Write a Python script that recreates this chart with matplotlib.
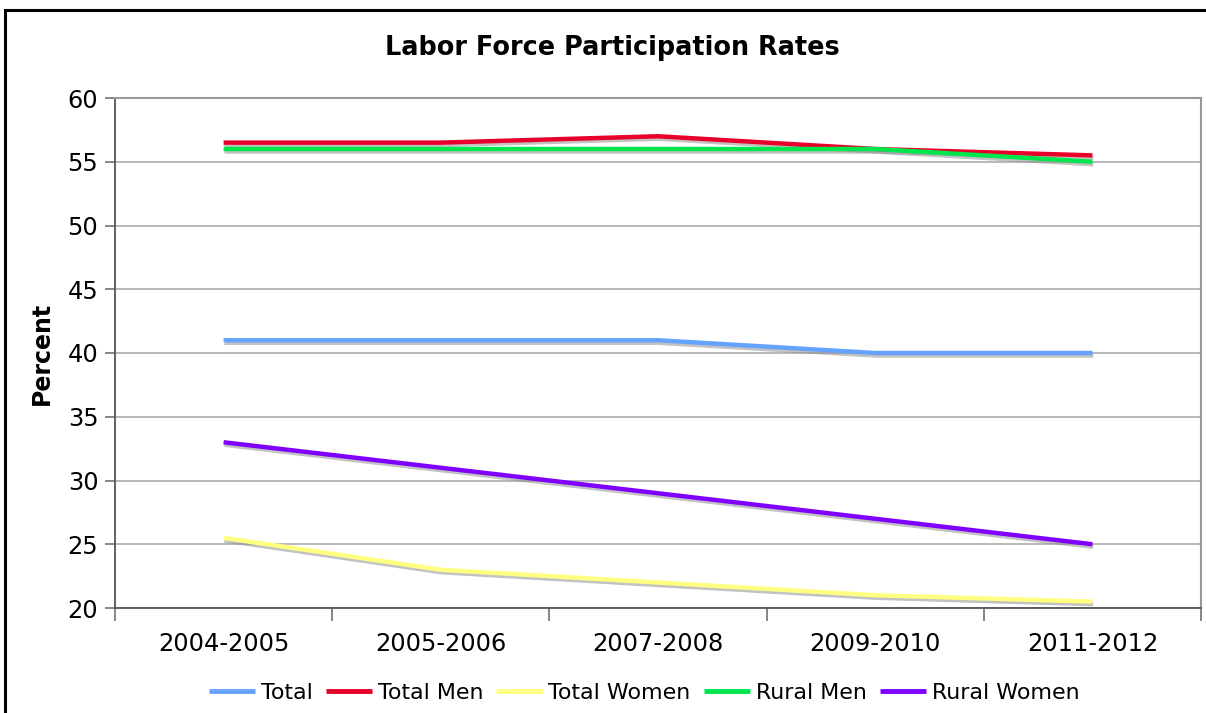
import numpy as np
import matplotlib
matplotlib.use("Agg")
import matplotlib.pyplot as plt
import matplotlib.patheffects as pe
from matplotlib.patches import Rectangle

# data
periods = ["2004-2005", "2005-2006", "2007-2008", "2009-2010", "2011-2012"]
total = [41, 41, 41, 40, 40]
total_men = [56.5, 56.5, 57, 56, 55.5]
total_women = [25.5, 23, 22, 21, 20.5]
rural_men = [56, 56, 56, 56, 55]
rural_women = [33, 31, 29, 27, 25]

series_names = ["Total", "Total Men", "Total Women", "Rural Men", "Rural Women"]
series_colors = ["#66a3ff", "#e8002a", "#ffff80", "#00e64d", "#8000ff"]

plt.rcParams['font.family'] = ['DejaVu Sans']

fig = plt.figure(figsize=(12.06, 7.13), dpi=100)
ax = fig.add_axes([115/1206, 1 - 608/713, (1201 - 115)/1206, (608 - 98)/713])

# outer black frame (right and bottom run off the image)
fig.patches.append(Rectangle((5/1206, -0.05), 1.2, 1 - 10/713 + 0.05,
                             transform=fig.transFigure, fill=False,
                             edgecolor="black", linewidth=2.2, zorder=0))

x = np.arange(len(periods))
shadow = [pe.SimpleLineShadow(offset=(0.6, -1.8), shadow_color="#909090", alpha=0.55),
          pe.Normal()]
for name, vals, col in zip(series_names,
                           [total, total_men, total_women, rural_men, rural_women],
                           series_colors):
    ax.plot(x, vals, color=col, linewidth=3.2, label=name,
            solid_capstyle="butt", path_effects=shadow, zorder=3)

ax.set_xlim(-0.5, len(periods) - 0.5)
ax.set_ylim(20, 60)
ax.set_yticks(np.arange(20, 61, 5))
ax.yaxis.grid(True, color="#a6a6a6", linewidth=1.1)
ax.set_axisbelow(True)

ax.set_xticks(x)
ax.set_xticklabels(periods)
ax.set_xticks(np.arange(-0.5, len(periods), 1), minor=True)
ax.tick_params(axis="x", which="major", length=0, pad=17, labelsize=17.4)
ax.tick_params(axis="x", which="minor", length=9, width=1.1, color="#666666", direction="out")
ax.tick_params(axis="y", length=7, width=1.1, color="#666666", labelsize=17.4, pad=5)

for side in ["left", "bottom"]:
    ax.spines[side].set_color("#555555")
    ax.spines[side].set_linewidth(1.3)
for side in ["top", "right"]:
    ax.spines[side].set_color("#999999")
    ax.spines[side].set_linewidth(1.5)

ax.set_ylabel("Percent", fontsize=17, fontweight="bold", labelpad=10)
fig.text(0.508, 1 - 48/713, "Labor Force Participation Rates", ha="center", va="center",
         fontsize=18.4, fontweight="bold")

leg = fig.legend(loc="center", bbox_to_anchor=(0.534, 20/713), ncol=5, frameon=False,
                 fontsize=15.9, handlelength=2.1, handletextpad=0.25, columnspacing=0.6)
for h in leg.get_lines():
    h.set_linewidth(3.5)
    h.set_path_effects([])

fig.savefig("out.png", dpi=100)
